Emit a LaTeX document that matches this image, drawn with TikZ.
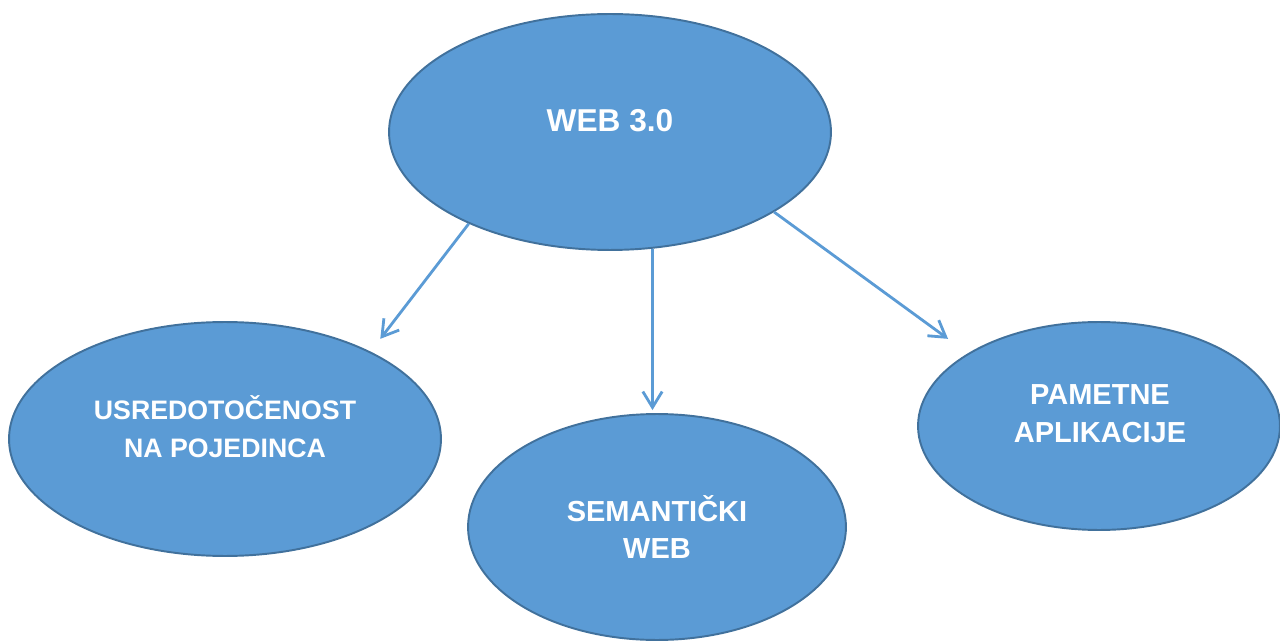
\documentclass[tikz,border=0pt]{standalone}
\usepackage{fontspec}
\setmainfont{Liberation Sans}
\usepackage{tikz}
\usetikzlibrary{shapes.geometric,arrows.meta}
\definecolor{blobfill}{HTML}{5B9BD5}
\definecolor{blobline}{HTML}{41719C}
\tikzset{
	blob/.style={ellipse,draw=blobline,fill=blobfill,line width=1.1pt,inner sep=0pt},
	txt/.style={text=white,font=\bfseries\fontsize{15.2}{21.6}\selectfont,align=center},
	bigtxt/.style={txt,font=\bfseries\fontsize{16.5}{21.6}\selectfont},
	arr/.style={draw=blobfill,line width=1.6pt,-{Straight Barb[length=9pt,width=11pt,line width=1.6pt]}}
}
\begin{document}
\begin{tikzpicture}[x=0.02cm,y=-0.02cm]
		\useasboundingbox (0,0) rectangle (1280,641);
		\node [blob,minimum width=8.84cm,minimum height=4.72cm,label={[txt,name=webtxt,yshift=0.22cm,font=\bfseries\fontsize{18}{22}\selectfont]center:WEB 3.0}] (web) at (610,132) {};
		\node [blob,minimum width=8.64cm,minimum height=4.68cm,label={[txt,name=indtxt,yshift=0.24cm]center:USREDOTOČENOST\\NA POJEDINCA}] (ind) at (225,439) {};
		\node [blob,minimum width=7.56cm,minimum height=4.52cm,label={[bigtxt,name=semtxt]center:SEMANTIČKI\\WEB}] (sem) at (657,527) {};
		\node [blob,minimum width=7.24cm,minimum height=4.16cm,label={[bigtxt,name=apptxt,xshift=0.02cm,yshift=0.24cm]center:PAMETNE\\APLIKACIJE}] (app) at (1099,426) {};
		% strelice
		\draw [arr,shorten >=0.32cm] (web.213) -- (ind.31);
		\draw [arr,shorten >=0.06cm] (web.290) -- (web.290 |- sem.north);
		\draw [arr,shorten >=0.49cm] (web.334) -- (app.151.5);
	\end{tikzpicture}
\end{document}
